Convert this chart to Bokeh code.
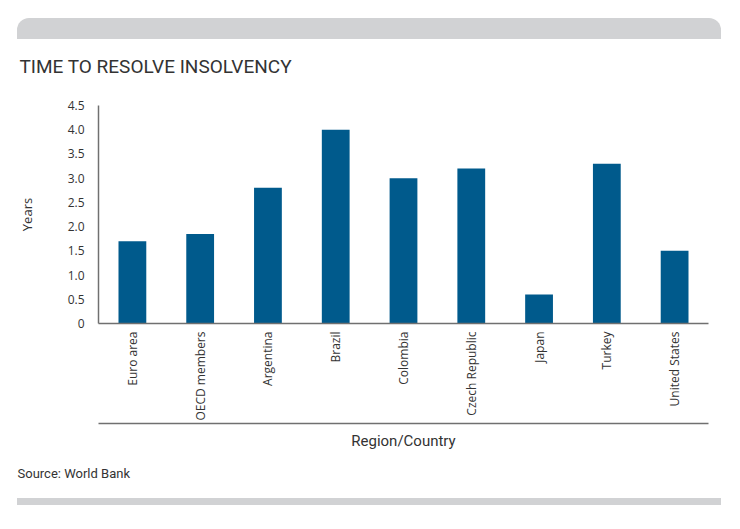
import math
from bokeh.plotting import figure
from bokeh.models import FactorRange, Range1d, FixedTicker, CategoricalAxis, Title, Div
from bokeh.layouts import column
from bokeh.embed import file_html
from bokeh.resources import INLINE

# ---- data ----
categories = ["Euro area", "OECD members", "Argentina", "Brazil", "Colombia",
              "Czech Republic", "Japan", "Turkey", "United States"]
years = [1.7, 1.85, 2.8, 4.0, 3.0, 3.2, 0.6, 3.3, 1.5]
y_ticks = [0, 0.5, 1.0, 1.5, 2.0, 2.5, 3.0, 3.5, 4.0, 4.5]
y_tick_labels = ["0", "0.5", "1.0", "1.5", "2.0", "2.5", "3.0", "3.5", "4.0", "4.5"]

title_text = "TIME TO RESOLVE INSOLVENCY"
x_label = "Region/Country"
y_label = "Years"
source_text = "Source: World Bank"

BAR = "#005A8C"
AXIS = "#707070"
TXT = "#333333"
GREY = "#D1D2D4"

p = figure(x_range=FactorRange(factors=categories, range_padding=0),
           y_range=Range1d(0, 4.5),
           width=724, height=476,
           min_border_left=90, min_border_right=24,
           min_border_top=83, min_border_bottom=175,
           output_backend="svg", toolbar_location=None)
p.margin = (-17, 0, 0, 8)

p.vbar(x=categories, top=years, width=0.41, fill_color=BAR, line_color=None)

p.outline_line_color = None
p.xgrid.grid_line_color = None
p.ygrid.grid_line_color = None
p.background_fill_color = "white"
p.border_fill_color = None

# title
p.title.text = title_text
p.title.text_font = "Roboto"
p.title.text_font_size = "19px"
p.title.text_font_style = "normal"
p.title.text_color = TXT
p.title.align = "left"
p.title.offset = -79
p.title.standoff = 55

# y axis
ya = p.yaxis[0]
ya.ticker = FixedTicker(ticks=y_ticks)
ya.major_label_overrides = {t: l for t, l in zip(y_ticks, y_tick_labels)}
ya.major_tick_line_color = None
ya.minor_tick_line_color = None
ya.major_tick_out = 0
ya.major_label_standoff = 14
ya.major_label_text_font = "Open Sans"
ya.major_label_text_font_size = "12px"
ya.major_label_text_color = TXT
ya.axis_line_color = AXIS
ya.axis_line_width = 1.5
ya.axis_label = y_label
ya.axis_label_text_font = "Open Sans"
ya.axis_label_text_font_size = "13px"
ya.axis_label_text_font_style = "normal"
ya.axis_label_text_color = TXT
ya.axis_label_standoff = 29

# x axis (category labels)
xa = p.xaxis[0]
xa.major_label_orientation = math.pi / 2
xa.major_tick_line_color = None
xa.minor_tick_line_color = None
xa.major_tick_out = 0
xa.major_label_standoff = 8
xa.major_label_text_font = "Open Sans"
xa.major_label_text_font_size = "12px"
xa.major_label_text_color = TXT
xa.axis_line_color = AXIS
xa.axis_line_width = 1.5

# invisible spacer axis
spacer = CategoricalAxis(ticker=FixedTicker(ticks=[]), axis_line_color=None,
                         major_tick_line_alpha=0, major_tick_in=0, major_tick_out=9,
                         minor_tick_line_color=None)
p.add_layout(spacer, "below")

# second axis: lower rule + axis title
ax2 = CategoricalAxis(ticker=FixedTicker(ticks=[]),
                      axis_line_color=AXIS, axis_line_width=1.5,
                      major_tick_line_color=None, minor_tick_line_color=None,
                      major_tick_out=0, major_tick_in=0, major_label_standoff=0,
                      axis_label=x_label, axis_label_text_font="Roboto",
                      axis_label_text_font_size="15px",
                      axis_label_text_font_style="normal",
                      axis_label_text_color=TXT, axis_label_standoff=8)
p.add_layout(ax2, "below")

src = Title(text=source_text, align="left", text_font="Roboto",
            text_font_size="13px", text_font_style="normal",
            text_color=TXT, offset=-81, standoff=22)
p.add_layout(src, "below")

top_bar = Div(width=704, height=21, margin=(18, 0, 0, 17),
              styles={"background-color": GREY,
                      "border-radius": "12px 12px 0 0"})
bottom_bar = Div(width=704, height=7, margin=(0, 0, 0, 17),
                 styles={"background-color": GREY})

layout = column(top_bar, p, bottom_bar, spacing=0)

open("out.html", "w").write(file_html(layout, INLINE))
